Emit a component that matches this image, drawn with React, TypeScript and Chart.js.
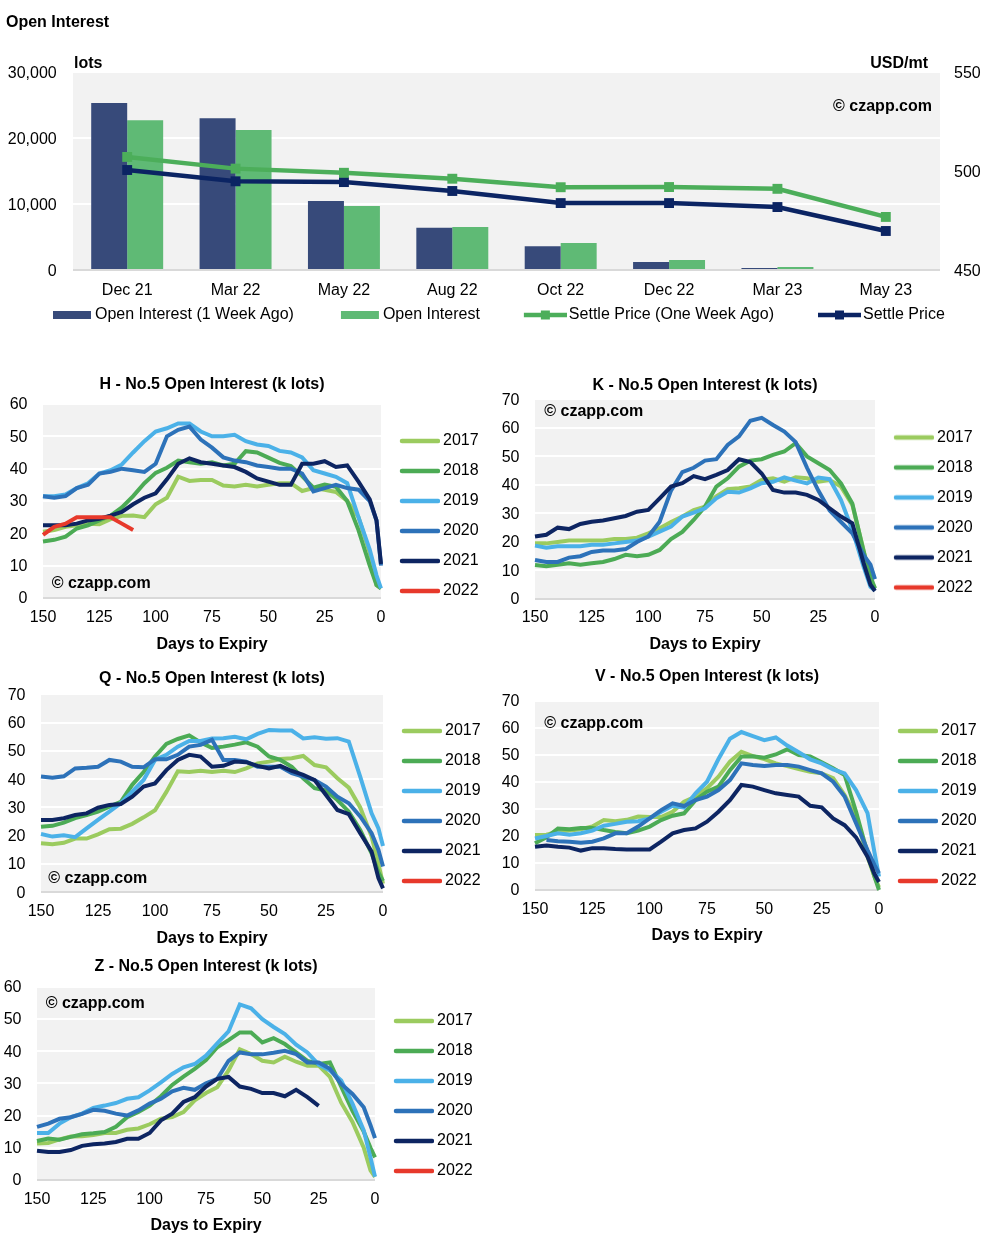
import React, { useEffect, useRef } from 'react';
import { Chart, registerables } from 'chart.js';

Chart.register(...registerables);

const FONT = "'Liberation Sans', Arial, Helvetica, sans-serif";
Chart.defaults.font.family = FONT;
Chart.defaults.font.size = 16;
Chart.defaults.color = '#000';

// ---------- Top chart data ----------
const CONTRACTS = ['Dec 21', 'Mar 22', 'May 22', 'Aug 22', 'Oct 22', 'Dec 22', 'Mar 23', 'May 23'];
const OI_WEEK_AGO = [25300, 23000, 10450, 6400, 3600, 1200, 300, 0];
const OI_NOW = [22700, 21200, 9700, 6500, 4100, 1500, 450, 150];
const SETTLE_WEEK_AGO = [507.1, 501.2, 499.1, 496.1, 491.8, 491.9, 491.0, 476.8];
const SETTLE_NOW = [500.5, 494.8, 494.4, 489.9, 483.8, 483.8, 481.8, 469.7];

// ---------- Small charts data ----------
const DAYS = [150, 145, 140, 135, 130, 125, 120, 115, 110, 105, 100, 95, 90, 85, 80, 75, 70, 65, 60, 55, 50, 45, 40, 35, 30, 25, 20, 15, 10, 5, 2, 0];
const YEARS = ['2017', '2018', '2019', '2020', '2021', '2022'];

const H_2017 = [20.5, 21, 22, 22.5, 23, 22.8, 24.4, 25.4, 25.5, 25, 29, 31, 37.5, 36.2, 36.5, 36.5, 34.8, 34.5, 35, 34.5, 35, 35.5, 35.5, 33.1, 34, 33.5, 32.8, 30, 25, 14, 4, 3];
const H_2018 = [17.5, 18, 19, 21.5, 22.5, 24, 25.5, 28, 31.5, 35.5, 38.7, 40.3, 42.5, 42, 41.5, 42, 41, 41.5, 45.4, 45, 43.4, 41.8, 40.8, 37.7, 34.1, 35.1, 34.4, 30, 21, 10, 4, 3];
const H_2019 = [31.5, 31.5, 32, 34, 35.5, 38.5, 39.5, 41.3, 45, 48.5, 51.5, 52.5, 54, 54, 51.5, 50, 50, 50.5, 48.5, 47.5, 47, 45.5, 45, 43.5, 39.5, 38.5, 37.5, 35.5, 25, 15, 7, 3];
const H_2020 = [31.5, 31, 31.5, 34, 35, 38.5, 39, 40, 39.5, 39, 41.5, 50, 52, 53, 49, 46.5, 43.5, 42.5, 42, 41, 40.5, 40, 40, 38.5, 33, 34, 35, 34, 33.5, 30, 24, 10];
const H_2021 = [22.5, 22.5, 22.5, 23, 24, 24.5, 25.5, 26.6, 29, 31, 32.4, 36.7, 41.5, 43.2, 42, 41.5, 41, 40.5, 39, 37, 36, 35, 35, 41.5, 41.5, 42.3, 40.5, 41, 36, 30.5, 24, 10.5];
const H_2022 = [19.5, 22, 23, 25, 25, 25, 25, 23, 21];

const K_2017 = [19.5, 19.5, 20, 20.5, 20.5, 20.5, 20.5, 21, 21, 21.5, 23, 24.8, 27, 28.9, 31.2, 32.4, 36, 38.5, 38.8, 39.4, 41.7, 42.3, 41.1, 42.7, 42.3, 41.1, 41.7, 39.4, 33, 17, 6, 4];
const K_2018 = [11.9, 11.5, 12, 12.5, 12, 12.5, 13, 14, 15.5, 15, 15.5, 17.2, 21, 23.5, 27.7, 32.4, 39.4, 42.3, 46.4, 48.5, 49, 50.5, 51.7, 54.6, 50, 47.6, 45.2, 40.5, 33.5, 16.6, 7.8, 3.7];
const K_2019 = [18.7, 18, 18.5, 18.5, 18.5, 19, 19, 19.5, 20, 20.5, 21.9, 23.6, 25.4, 28.9, 30.3, 31.8, 35.3, 37.6, 37.3, 38.8, 40.6, 41.1, 42.6, 41.5, 40.5, 42.6, 42, 34.7, 24.2, 11.3, 4.3, 3];
const K_2020 = [13.7, 13, 13, 14.5, 15, 16.5, 17, 17, 17.5, 20, 21.9, 27.1, 38, 44.5, 46, 48.5, 49, 54, 57, 62.5, 63.5, 61, 58.7, 55, 46, 38, 31, 27, 23, 15.4, 12, 7];
const K_2021 = [21.9, 22.5, 25, 24.5, 26.3, 27.1, 27.5, 28.3, 29.1, 30.6, 31.2, 35.3, 39.4, 40.6, 43.1, 42, 43.5, 45.2, 49, 48, 44, 38.2, 37.3, 37.3, 36.5, 34.7, 31.8, 28.9, 26.5, 12.5, 5, 2.8];
const K_2022: number[] = [];

const Q_2017 = [17.3, 17, 17.5, 19, 19, 20.5, 22.3, 22.5, 24.2, 26.5, 29, 35.5, 42.8, 42.5, 43, 42.5, 43, 42.5, 43.8, 45.6, 46.2, 47.1, 47.4, 48.2, 45, 44.2, 40.3, 37, 30, 19.7, 10, 3];
const Q_2018 = [23.2, 23.5, 24.6, 26.2, 27.3, 28.5, 30.3, 32, 38, 42.5, 48, 52.5, 54.2, 55.5, 53, 51, 51.5, 52.2, 53, 51.5, 48, 46.8, 44.4, 40.3, 36.8, 36, 32.6, 28.5, 22, 13.8, 7, 4];
const Q_2019 = [20.6, 19.7, 20.2, 19.5, 22.6, 25.6, 28.5, 31.5, 35.6, 39.7, 46.8, 48.6, 51.5, 53.5, 53.5, 54.4, 54.5, 55, 54.1, 56, 57.4, 57.2, 57.2, 54.4, 54.8, 54.3, 54.5, 53.3, 40.9, 27.9, 22.6, 16.4];
const Q_2020 = [40.9, 40.5, 41, 43.8, 44, 44.4, 46.8, 46.2, 44.4, 44.2, 47, 47, 48.6, 51.5, 52.1, 53.9, 46.8, 46.8, 46.2, 44.4, 44.4, 44.4, 42.1, 40.9, 39.7, 37.4, 33.8, 31.5, 26.8, 20.9, 15, 9.1];
const Q_2021 = [25.6, 25.6, 26.2, 27.3, 27.9, 29.9, 30.9, 31.2, 33.8, 37.4, 38.5, 43.2, 46.8, 48.6, 48, 44.4, 44.7, 46.2, 46, 44.7, 43.8, 44.7, 42.9, 41.5, 39.7, 34.4, 29.1, 27.6, 20.9, 14.4, 5, 1.4];
const Q_2022: number[] = [];

const V_2017 = [20.4, 20.5, 21.6, 22, 22.5, 23.5, 25.9, 25.5, 26, 27.2, 27, 27, 29, 32.7, 34.6, 37.7, 42, 47.5, 51.2, 49.6, 48.5, 46.9, 45.9, 44.8, 43.8, 43.2, 41.4, 35.2, 27, 12.3, 5, 1];
const V_2018 = [17.3, 19.5, 22.8, 22.5, 23, 23, 22.2, 21.5, 21, 22, 23.5, 25.9, 27.5, 28.4, 33.3, 36.4, 38.3, 44.4, 49.4, 49.5, 49, 50.2, 52.1, 50, 49.5, 47.3, 45.1, 42.6, 29, 13.6, 5, 0];
const V_2019 = [19.1, 20, 21, 20.5, 21, 22, 23.8, 24.5, 25.3, 25.5, 26.5, 29, 31.2, 30.5, 35.8, 40.1, 48.5, 56, 58.5, 57, 55.5, 56.5, 53.5, 51, 48.4, 46.9, 44.7, 43.2, 37, 28.5, 14, 5];
const V_2020 = [null, 18.5, 18.1, 17.9, 17.5, 17.9, 19.1, 21, 21, 23.5, 26.5, 29.6, 32.1, 31.1, 33.3, 34.6, 37, 40.7, 46.9, 46.3, 45.9, 46.3, 46.3, 45.7, 44.4, 43.2, 40.1, 34.6, 24.7, 14.8, 9.3, 6.2];
const V_2021 = [16, 16.5, 16, 15.7, 14.6, 15.5, 15.5, 15.2, 15, 15, 15, 17.9, 21, 22.2, 22.8, 25.3, 29, 33.3, 38.9, 38.3, 37, 35.8, 35.2, 34.6, 31.2, 30.6, 26.5, 24, 19.5, 12.3, 6, 3];
const V_2022: number[] = [];

const Z_2017 = [11.3, 11.5, 12.6, 13.5, 13.6, 14, 14.6, 14.6, 15.6, 16, 17.3, 19, 19.5, 21.1, 24.7, 27, 28.8, 34, 40.6, 39.1, 37, 36.5, 38.3, 36.7, 35.5, 35.5, 32, 24, 18, 10, 3, 1];
const Z_2018 = [12.1, 12.9, 12.5, 13.4, 14.2, 14.5, 14.9, 16.5, 19.5, 21.1, 23.1, 26, 29.5, 32.1, 34.5, 37.2, 41.2, 43.4, 45.8, 45.8, 42.7, 44, 42.2, 39.6, 37, 36, 36.5, 29, 21.5, 15, 10, 7];
const Z_2019 = [14.6, 14.6, 17.5, 19.5, 20.6, 22.4, 23.1, 23.9, 25.2, 25.7, 27.8, 30.3, 32.9, 35, 36, 38.6, 42.4, 46.1, 54.5, 53.3, 49.9, 47.5, 45.3, 42, 39.6, 35.8, 34, 30.9, 23.7, 15.4, 7, 1];
const Z_2020 = [16.5, 17.5, 19, 19.5, 20.5, 21.8, 21.5, 20.6, 20, 21.6, 23.7, 25.2, 27.5, 28.6, 28, 30, 31.4, 37, 39.6, 39, 39, 39.5, 40.1, 39.1, 36.5, 36.5, 34.5, 29.8, 26.7, 22.6, 17, 13];
const Z_2021 = [9.1, 8.7, 8.7, 9.3, 10.6, 11.1, 11.3, 11.8, 12.8, 12.8, 14.6, 18.5, 20.6, 24.2, 25.7, 29, 31.4, 32, 29, 28.3, 27, 27, 26, 28, 25.7, 23];
const Z_2022: number[] = [];

// ---------- Styles ----------
const YEAR_COLORS = ['#9BCB5F', '#4CAB55', '#4BB1E8', '#2D72B9', '#0D2562', '#E7392B'];
const NAVY_BAR = '#374A7A';
const GREEN_BAR = '#5FBA75';
const GREEN_LINE = '#4CAE5A';
const NAVY_LINE = '#0B2463';
const PLOT_BG = '#F2F2F2';

type SmallCfg = {
  id: string; title: string; series: (number | null)[][]; yMax: number;
  left: number; top: number; w: number; h: number; yW: number;
  tTop: number; tBottom: number; xH: number; tickPad: number; xtPad: number;
  wm: { x: number; y: number };
};

const SMALL: SmallCfg[] = [
  { id: 'H', title: 'H - No.5 Open Interest (k lots)', series: [H_2017, H_2018, H_2019, H_2020, H_2021, H_2022], yMax: 60,
    left: 0, top: 370, w: 481, h: 292, yW: 43, tTop: 4.9, tBottom: 9.9, xH: 64, tickPad: 10.3, xtPad: 8.2, wm: { x: 51.7, y: 212.7 } },
  { id: 'K', title: 'K - No.5 Open Interest (k lots)', series: [K_2017, K_2018, K_2019, K_2020, K_2021, K_2022], yMax: 70,
    left: 495, top: 366, w: 480, h: 293, yW: 40, tTop: 9.6, tBottom: 4.5, xH: 60, tickPad: 9.3, xtPad: 5.2, wm: { x: 49.3, y: 44.7 } },
  { id: 'Q', title: 'Q - No.5 Open Interest (k lots)', series: [Q_2017, Q_2018, Q_2019, Q_2020, Q_2021, Q_2022], yMax: 70,
    left: 0, top: 658, w: 483, h: 296, yW: 41, tTop: 10.9, tBottom: 6.2, xH: 61.7, tickPad: 10, xtPad: 6.2, wm: { x: 48.3, y: 219.3 } },
  { id: 'V', title: 'V - No.5 Open Interest (k lots)', series: [V_2017, V_2018, V_2019, V_2020, V_2021, V_2022], yMax: 70,
    left: 495, top: 660, w: 484, h: 292, yW: 40, tTop: 7.3, tBottom: 14.5, xH: 62, tickPad: 9.9, xtPad: 6.6, wm: { x: 49.3, y: 62.7 } },
  { id: 'Z', title: 'Z - No.5 Open Interest (k lots)', series: [Z_2017, Z_2018, Z_2019, Z_2020, Z_2021, Z_2022], yMax: 60,
    left: 0, top: 948, w: 475, h: 296, yW: 37, tTop: 9.3, tBottom: 10.2, xH: 64, tickPad: 9.9, xtPad: 8.6, wm: { x: 45.7, y: 54.7 } },
];

function makeImg(w: number, h: number, draw: (ctx: CanvasRenderingContext2D) => void) {
  const c = document.createElement('canvas');
  c.width = w;
  c.height = h;
  const ctx = c.getContext('2d') as CanvasRenderingContext2D;
  draw(ctx);
  return c;
}

const plotBg = {
  id: 'plotBg',
  beforeDraw(chart: any) {
    const { ctx, chartArea: a } = chart;
    ctx.save();
    ctx.fillStyle = PLOT_BG;
    ctx.fillRect(a.left, a.top, a.right - a.left, a.bottom - a.top);
    ctx.restore();
  },
};

function textPlugin(items: { text: string; x: number; y: number; align: CanvasTextAlign }[]) {
  return {
    id: 'annotText',
    afterDraw(chart: any) {
      const ctx = chart.ctx;
      ctx.save();
      ctx.font = `bold 16px ${FONT}`;
      ctx.fillStyle = '#000';
      ctx.textBaseline = 'middle';
      items.forEach((t) => {
        ctx.textAlign = t.align;
        ctx.fillText(t.text, t.x, t.y + 1.3);
      });
      ctx.restore();
    },
  };
}

const gridColor = (c: any) => (c.tick && c.tick.value === 0 ? '#D9D9D9' : '#FFFFFF');

function MainChart() {
  const ref = useRef<HTMLCanvasElement>(null);
  useEffect(() => {
    const swatchBar = (color: string) =>
      makeImg(84, 12, (ctx) => {
        ctx.fillStyle = color;
        ctx.fillRect(44, 2, 38, 8);
      });
    const swatchLine = (color: string) =>
      makeImg(84, 12, (ctx) => {
        ctx.strokeStyle = color;
        ctx.lineWidth = 4.5;
        ctx.beginPath();
        ctx.moveTo(41, 6);
        ctx.lineTo(84, 6);
        ctx.stroke();
        ctx.fillStyle = color;
        ctx.fillRect(58, 1.5, 9, 9);
      });
    const labels = [
      { text: 'Open Interest (1 Week Ago)', img: swatchBar(NAVY_BAR), color: NAVY_BAR },
      { text: 'Open Interest', img: swatchBar(GREEN_BAR), color: GREEN_BAR },
      { text: 'Settle Price (One Week Ago)', img: swatchLine(GREEN_LINE), color: GREEN_LINE },
      { text: 'Settle Price', img: swatchLine(NAVY_LINE), color: NAVY_LINE },
    ];
    const chart = new Chart(ref.current as HTMLCanvasElement, {
      data: {
        labels: CONTRACTS,
        datasets: [
          { type: 'bar', label: 'Open Interest (1 Week Ago)', data: OI_WEEK_AGO, backgroundColor: NAVY_BAR, yAxisID: 'y', order: 1, categoryPercentage: 0.664, barPercentage: 1 } as any,
          { type: 'bar', label: 'Open Interest', data: OI_NOW, backgroundColor: GREEN_BAR, yAxisID: 'y', order: 1, categoryPercentage: 0.664, barPercentage: 1 } as any,
          { type: 'line', label: 'Settle Price (One Week Ago)', data: SETTLE_WEEK_AGO, borderColor: GREEN_LINE, backgroundColor: GREEN_LINE, borderWidth: 4.5, pointStyle: 'rect', pointRadius: 7, pointBorderWidth: 0, yAxisID: 'y1', order: 0 } as any,
          { type: 'line', label: 'Settle Price', data: SETTLE_NOW, borderColor: NAVY_LINE, backgroundColor: NAVY_LINE, borderWidth: 4.5, pointStyle: 'rect', pointRadius: 7, pointBorderWidth: 0, yAxisID: 'y1', order: 0 } as any,
        ],
      },
      options: {
        responsive: false,
        animation: false,
        events: [],
        layout: { padding: { left: 6, right: 0, top: 0, bottom: 0 } },
        plugins: {
          title: { display: true, text: 'Open Interest', align: 'start', color: '#000', font: { family: FONT, size: 16, weight: 'bold' }, padding: { top: 12.5, bottom: 40.3 } },
          legend: {
            position: 'bottom',
            align: 'start',
            labels: {
              usePointStyle: true,
              pointStyleWidth: 72,
              padding: 9,
              color: '#000',
              font: { family: FONT, size: 16 },
              generateLabels: () =>
                labels.map((l, i) => ({ text: l.text, pointStyle: l.img, fillStyle: l.color, strokeStyle: l.color, lineWidth: 0, hidden: false, datasetIndex: i, fontColor: '#000' })) as any,
            },
          },
          tooltip: { enabled: false },
        },
        scales: {
          x: {
            grid: { display: false, drawTicks: false },
            border: { display: false },
            ticks: { color: '#000', font: { family: FONT, size: 16 }, padding: 10.7 },
            afterFit: (s: any) => { s.height = 28; },
          },
          y: {
            position: 'left',
            min: 0,
            max: 30000,
            ticks: { stepSize: 10000, padding: 16.3, labelOffset: 1.5, color: '#000', font: { family: FONT, size: 16 }, callback: (v: any) => Number(v).toLocaleString('en-US') },
            grid: { color: gridColor, lineWidth: 2, drawTicks: false },
            border: { display: false },
            afterFit: (s: any) => { s.width = 67; },
          },
          y1: {
            position: 'right',
            min: 450,
            max: 550,
            ticks: { stepSize: 50, padding: 14, labelOffset: 1.5, color: '#000', font: { family: FONT, size: 16 } },
            grid: { display: false, drawTicks: false },
            border: { display: false },
            afterFit: (s: any) => { s.width = 62; },
          },
        } as any,
      },
      plugins: [
        plotBg,
        textPlugin([
          { text: 'lots', x: 74, y: 62.7, align: 'left' },
          { text: 'USD/mt', x: 928, y: 62.7, align: 'right' },
          { text: '\u00A9 czapp.com', x: 932, y: 105, align: 'right' },
        ]),
      ],
    } as any);
    return () => chart.destroy();
  }, []);
  return <canvas ref={ref} width={1002} height={333} style={{ position: 'absolute', left: 0, top: 0 }} />;
}

function SmallChart({ cfg }: { cfg: SmallCfg }) {
  const ref = useRef<HTMLCanvasElement>(null);
  useEffect(() => {
    const imgs = YEAR_COLORS.map((c) =>
      makeImg(50, 8, (ctx) => {
        ctx.strokeStyle = c;
        ctx.lineWidth = 4.5;
        ctx.lineCap = 'round';
        ctx.beginPath();
        ctx.moveTo(12, 4);
        ctx.lineTo(48, 4);
        ctx.stroke();
      })
    );
    const chart = new Chart(ref.current as HTMLCanvasElement, {
      type: 'line',
      data: {
        datasets: cfg.series.map((vals, i) => ({
          label: YEARS[i],
          data: vals.map((v, j) => ({ x: DAYS[j], y: v })),
          borderColor: YEAR_COLORS[i],
          backgroundColor: YEAR_COLORS[i],
          borderWidth: 4,
          pointRadius: 0,
          order: 5 - i,
          clip: false,
        })) as any,
      },
      options: {
        responsive: false,
        animation: false,
        events: [],
        layout: { padding: 0 },
        plugins: {
          title: { display: true, text: cfg.title, fullSize: false, color: '#000', font: { family: FONT, size: 16, weight: 'bold' }, padding: { top: cfg.tTop, bottom: cfg.tBottom } },
          legend: {
            position: 'right',
            maxWidth: 100,
            labels: {
              usePointStyle: true,
              pointStyleWidth: 40,
              padding: 14,
              color: '#000',
              font: { family: FONT, size: 16 },
              generateLabels: () =>
                YEARS.map((y, i) => ({ text: y, pointStyle: imgs[i], fillStyle: YEAR_COLORS[i], strokeStyle: YEAR_COLORS[i], lineWidth: 0, hidden: false, datasetIndex: i, fontColor: '#000' })) as any,
            },
          },
          tooltip: { enabled: false },
        },
        scales: {
          x: {
            type: 'linear',
            min: 0,
            max: 150,
            reverse: true,
            ticks: { stepSize: 25, color: '#000', font: { family: FONT, size: 16 }, padding: cfg.tickPad },
            grid: { display: false, drawTicks: false },
            border: { display: false },
            title: { display: true, text: 'Days to Expiry', color: '#000', font: { family: FONT, size: 16, weight: 'bold' }, padding: { top: 0, bottom: cfg.xtPad } },
            afterFit: (s: any) => { s.height = cfg.xH; },
          },
          y: {
            min: 0,
            max: cfg.yMax,
            ticks: { stepSize: 10, color: '#000', font: { family: FONT, size: 16 }, padding: 15.5, labelOffset: 1 },
            grid: { color: gridColor, lineWidth: 2, drawTicks: false },
            border: { display: false },
            afterFit: (s: any) => { s.width = cfg.yW; },
          },
        } as any,
      },
      plugins: [plotBg, textPlugin([{ text: '\u00A9 czapp.com', x: cfg.wm.x, y: cfg.wm.y, align: 'left' }])],
    } as any);
    return () => chart.destroy();
  }, [cfg]);
  return <canvas ref={ref} width={cfg.w} height={cfg.h} style={{ position: 'absolute', left: cfg.left, top: cfg.top }} />;
}

export default function App() {
  return (
    <div style={{ position: 'absolute', left: 0, top: 0, width: 1002, height: 1244, background: '#FFFFFF', overflow: 'hidden' }}>
      <MainChart />
      {SMALL.map((c) => (
        <SmallChart key={c.id} cfg={c} />
      ))}
    </div>
  );
}
